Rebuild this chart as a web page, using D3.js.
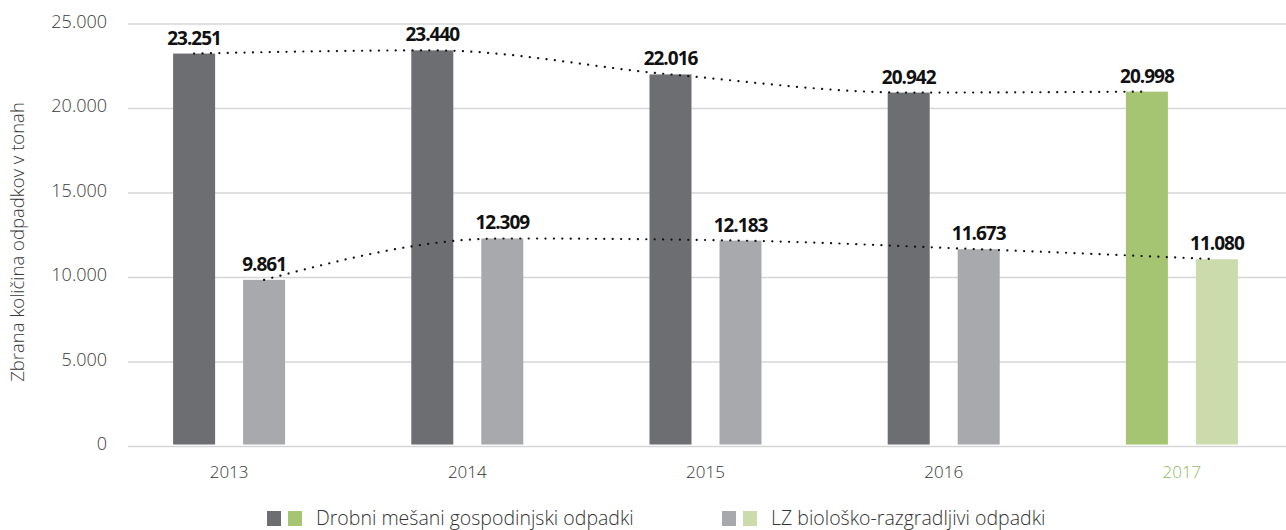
<!DOCTYPE html>
<html>
<head>
<meta charset="utf-8">
<script src="https://cdn.jsdelivr.net/npm/d3@7"></script>
<style>
  body { margin: 0; background: #fff; }
  svg { display: block; font-family: "Open Sans", sans-serif; }
</style>
</head>
<body>
<svg width="1286" height="530"></svg>
<script>
// data
const years = ["2013", "2014", "2015", "2016", "2017"];
const series = ["Drobni mešani gospodinjski odpadki", "LZ biološko-razgradljivi odpadki"];
const mixedWaste = [23251, 23440, 22016, 20942, 20998];
const bioWaste = [9861, 12309, 12183, 11673, 11080];
const yTicks = [0, 5000, 10000, 15000, 20000, 25000];
const highlightYear = "2017";

const colors = { base: ["#6d6e71", "#a7a9ac"], hi: ["#a6c573", "#cbdbab"] };

let svg = d3.select("svg");
let width = +svg.attr("width");

const fmt = d3.formatLocale({ decimal: ",", thousands: ".", grouping: [3], currency: ["", ""] }).format(",d");

let y = d3.scaleLinear().domain([0, 25000]).range([446.5, 24]);
let x = d3.scaleBand().domain(years).range([110, 1301]);
let xs = d3.scaleBand().domain(series).range([-56, 56]).paddingInner(0.4);

// grid
svg.append("g")
    .selectAll("line")
    .data(yTicks)
    .enter().append("line")
    .attr("x1", 128).attr("x2", width)
    .attr("y1", d => y(d)).attr("y2", d => y(d))
    .attr("stroke", "#d6d6d6")
    .attr("stroke-width", 1.6);

// y tick labels
svg.append("g")
    .selectAll("text")
    .data(yTicks)
    .enter().append("text")
    .attr("x", 107)
    .attr("y", d => y(d) + 3.5)
    .attr("text-anchor", "end")
    .attr("font-size", 18)
    .attr("font-weight", 300)
    .attr("fill", "#3a3a3a")
    .text(d => fmt(d));

svg.append("text")
    .attr("transform", "translate(24,242) rotate(-90)")
    .attr("text-anchor", "middle")
    .attr("font-size", 18.5)
    .attr("font-weight", 300)
    .attr("fill", "#3a3a3a")
    .text("Zbrana količina odpadkov v tonah");

const rows = years.map((yr, i) => ({ year: yr, vals: [mixedWaste[i], bioWaste[i]] }));
const cx = (yr, si) => x(yr) + x.bandwidth() / 2 + xs(series[si]) + xs.bandwidth() / 2;

// bars
let groups = svg.append("g").selectAll("g")
    .data(rows)
    .enter().append("g")
    .attr("transform", d => `translate(${x(d.year) + x.bandwidth() / 2},0)`);

groups.selectAll("rect")
    .data(d => d.vals.map((v, si) => ({ v: v, si: si, year: d.year })))
    .enter().append("rect")
    .attr("x", d => xs(series[d.si]))
    .attr("width", xs.bandwidth())
    .attr("y", d => y(d.v))
    .attr("height", d => y(0) - 2 - y(d.v))
    .attr("fill", d => (d.year === highlightYear ? colors.hi : colors.base)[d.si]);

// dotted trend lines
const line = d3.line()
    .x(d => d.x)
    .y(d => d.y)
    .curve(d3.curveMonotoneX);

[mixedWaste, bioWaste].forEach((vals, si) => {
    svg.append("path")
        .datum(vals.map((v, i) => ({ x: cx(years[i], si), y: y(v) })))
        .attr("d", line)
        .attr("fill", "none")
        .attr("stroke", "#111")
        .attr("stroke-width", 2.2)
        .attr("stroke-linecap", "round")
        .attr("stroke-dasharray", "0.1 8.3");
});

// value labels
groups.selectAll("text")
    .data(d => d.vals.map((v, si) => ({ v: v, si: si })))
    .enter().append("text")
    .attr("x", d => xs(series[d.si]) + xs.bandwidth() / 2)
    .attr("y", d => y(d.v) - 9)
    .attr("text-anchor", "middle")
    .attr("font-size", 19)
    .attr("font-weight", 700)
    .attr("letter-spacing", -1)
    .attr("fill", "#111")
    .text(d => fmt(d.v));

// x labels
svg.append("g").selectAll("text")
    .data(years)
    .enter().append("text")
    .attr("x", d => x(d) + x.bandwidth() / 2)
    .attr("y", 478)
    .attr("text-anchor", "middle")
    .attr("font-size", 17)
    .attr("font-weight", 300)
    .attr("fill", d => d === highlightYear ? "#8cba59" : "#333")
    .text(d => d);

// legend
const legendX = [267, 722];
let lg = svg.append("g").selectAll("g")
    .data(series)
    .enter().append("g")
    .attr("transform", (d, i) => `translate(${legendX[i]},511)`);
lg.append("rect").attr("width", 14).attr("height", 15).attr("fill", (d, i) => colors.base[i]);
lg.append("rect").attr("x", 21).attr("width", 14).attr("height", 15).attr("fill", (d, i) => colors.hi[i]);
lg.append("text")
    .attr("x", 49)
    .attr("y", 14)
    .attr("font-size", 19.5)
    .attr("font-weight", 300)
    .attr("fill", "#333")
    .text(d => d);
</script>
</body>
</html>
